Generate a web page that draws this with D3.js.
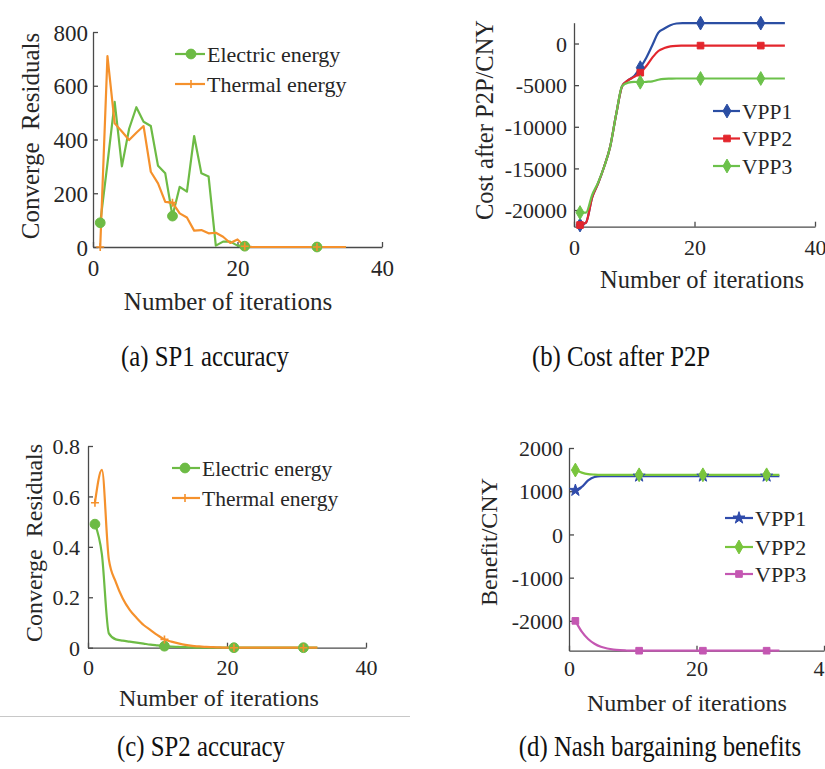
<!DOCTYPE html>
<html><head><meta charset="utf-8">
<script src="https://cdn.jsdelivr.net/npm/d3@7"></script>
<style>
body{margin:0;background:#fff;}
svg{display:block;font-family:"Liberation Serif","Times New Roman",serif;}
text{fill:#262626;}
</style></head><body>
<svg id="fig" width="825" height="769"></svg>
<script>
// ---- shared iteration axis ----
const iterTicks = [0, 20, 40];
const markerIters = [1, 11, 21, 31];

// ---- (a) SP1 accuracy: converge residuals ----
const sp1Iter = d3.range(1, 36);
const sp1Electric = [90,310,540,300,440,520,466,450,302,274,
  115,224,206,413,274,262,5,20,20,5,
  3,0,0,0,0,0,0,0,0,0,
  0,0,0,0,0];
const sp1Thermal = [0,710,460,430,398,425,450,280,237,168,
  165,125,110,61,63,51,53,38,15,28,
  3,0,0,0,0,0,0,0,0,0,
  0,0,0,0,0];
const sp1Ticks = [0, 200, 400, 600, 800];

// ---- (b) cost after P2P ----
const costIter = d3.range(1, 36);
const costVPP1 = [-21800,-21500,-18500,-16800,-14800,-12400,-8500,-5100,-4400,-3900,
  -2900,-1700,-200,1300,1800,2200,2400,2450,2450,2450,
  2450,2450,2450,2450,2450,2450,2450,2450,2450,2450,
  2450,2450,2450,2450,2450];
const costVPP2 = [-21800,-21500,-18500,-16800,-14800,-12400,-8500,-5100,-4400,-4000,
  -3500,-2700,-1700,-900,-550,-350,-280,-260,-250,-250,
  -250,-250,-250,-250,-250,-250,-250,-250,-250,-250,
  -250,-250,-250,-250,-250];
const costVPP3 = [-20300,-20300,-18200,-16700,-14800,-12400,-8500,-5100,-4700,-4600,
  -4650,-4600,-4550,-4350,-4250,-4220,-4200,-4200,-4200,-4200,
  -4200,-4200,-4200,-4200,-4200,-4200,-4200,-4200,-4200,-4200,
  -4200,-4200,-4200,-4200,-4200];
const costTicks = [-20000, -15000, -10000, -5000, 0];

// ---- (c) SP2 accuracy ----
const sp2Iter = d3.range(1, 34);
const sp2Electric = [0.49,0.37,0.057,0.033,0.028,0.024,0.02,0.016,0.012,0.009,
  0.006,0.004,0.003,0.002,0.001,0,0,0,0,0,
  0,0,0,0,0,0,0,0,0,0,
  0,0,0];
const sp2Thermal = [0.575,0.705,0.35,0.26,0.195,0.15,0.118,0.09,0.07,0.05,
  0.033,0.024,0.017,0.011,0.007,0.005,0.003,0.002,0.001,0,
  0,0,0,0,0,0,0,0,0,0,
  0,0,0];
const sp2Ticks = [0, 0.2, 0.4, 0.6, 0.8];

// ---- (d) Nash bargaining benefits ----
const nashIter = d3.range(1, 34);
const benefitVPP1 = [1020,1100,1250,1330,1350,1350,1350,1350,1350,1350,
  1350,1350,1350,1350,1350,1350,1350,1350,1350,1350,
  1350,1350,1350,1350,1350,1350,1350,1350,1350,1350,
  1350,1350,1350];
const benefitVPP2 = [1490,1430,1395,1385,1380,1380,1380,1380,1380,1380,
  1380,1380,1380,1380,1380,1380,1380,1380,1380,1380,
  1380,1380,1380,1380,1380,1380,1380,1380,1380,1380,
  1380,1380,1380];
const benefitVPP3 = [-2000,-2250,-2420,-2530,-2600,-2640,-2665,-2678,-2685,-2690,
  -2690,-2690,-2690,-2690,-2690,-2690,-2690,-2690,-2690,-2690,
  -2690,-2690,-2690,-2690,-2690,-2690,-2690,-2690,-2690,-2690,
  -2690,-2690,-2690];
const benefitTicks = [-2000, -1000, 0, 1000, 2000];

const GREEN = "#6dbb45", ORANGE = "#f5912c";
const BLUE = "#2b4ea3", RED = "#e3262d", GREEN_B = "#6cc14b";
const BLUE_D = "#2f4bab", GREEN_D = "#79c53d", MAGENTA = "#c457b2";
const AXIS = "#4a4a4a";

const svg = d3.select("#fig");

// integer labels with a plain hyphen as minus sign
const intFmt = d => String(Math.round(d));

// marker drawing helpers
function plusPath(s) { return `M${-s},0H${s}M0,${-s}V${s}`; }
function drawMarker(g, kind, x, y, color) {
  if (kind === "plus") {
    g.append("path").attr("d", plusPath(4)).attr("transform", `translate(${x},${y})`)
      .attr("stroke", color).attr("stroke-width", 1.6).attr("fill", "none");
    return;
  }
  const types = { circle: [d3.symbolCircle, 75], diamond: [d3.symbolDiamond, 55],
    square: [d3.symbolSquare, 44], star: [d3.symbolStar, 45] };
  const [t, s] = types[kind];
  g.append("path").attr("d", d3.symbol(t, s)()).attr("transform", `translate(${x},${y})`)
    .attr("fill", color).attr("stroke", color).attr("stroke-width", 1);
}

function panel(cfg) {
  const g = svg.append("g");
  const x = d3.scaleLinear().domain([0, 40]).range([cfg.x0, cfg.x1]);
  const y = d3.scaleLinear().domain(cfg.yDomain).range([cfg.yBot, cfg.yTop]);

  // axes: left and bottom only, ticks pointing inward
  const xa = g.append("g").attr("transform", `translate(0,${cfg.yBot})`)
    .call(d3.axisBottom(x).tickValues(iterTicks).tickSizeInner(-5).tickSizeOuter(0).tickFormat(intFmt));
  xa.selectAll("text").attr("y", cfg.xTickBase - cfg.yBot).attr("dy", null)
    .style("font-size", cfg.tickFs + "px").attr("fill", "#262626");
  const ya = g.append("g").attr("transform", `translate(${cfg.x0},0)`)
    .call(d3.axisLeft(y).tickValues(cfg.yTicks).tickSizeInner(-5).tickSizeOuter(0).tickFormat(cfg.fmt));
  ya.selectAll("text").attr("x", cfg.yTickRight - cfg.x0).attr("dy", "0.35em")
    .style("font-size", cfg.tickFs + "px").attr("fill", "#262626");
  [xa, ya].forEach(a => {
    a.attr("font-family", null).attr("font-size", null);
    a.selectAll("path,line").attr("stroke", AXIS).attr("stroke-width", 1.3);
  });

  // series
  const line = d3.line().x(d => x(d[0])).y(d => y(d[1])).curve(cfg.curve);
  cfg.series.forEach(s => {
    const pts = cfg.iter.map((it, i) => [it, s.values[i]]);
    g.append("path").datum(pts).attr("d", line).attr("fill", "none")
      .attr("stroke", s.color).attr("stroke-width", 2.2).attr("stroke-linejoin", "round");
  });
  cfg.series.forEach(s => {
    cfg.iter.forEach((it, i) => {
      if (markerIters.includes(it)) drawMarker(g, s.marker, x(it), y(s.values[i]), s.color);
    });
  });

  // legend
  cfg.series.forEach((s, i) => {
    const ly = cfg.leg.rows[i];
    g.append("line").attr("x1", cfg.leg.x0).attr("x2", cfg.leg.x1).attr("y1", ly).attr("y2", ly)
      .attr("stroke", s.color).attr("stroke-width", 2.2);
    drawMarker(g, s.marker, cfg.leg.mx, ly, s.color);
    g.append("text").attr("x", cfg.leg.tx).attr("y", ly).attr("dy", "0.35em")
      .style("font-size", cfg.leg.fs + "px").text(s.name);
  });

  // axis titles
  g.append("text").attr("x", cfg.xLab[0]).attr("y", cfg.xLab[1]).attr("text-anchor", "middle")
    .style("font-size", cfg.labFs + "px").text("Number of iterations");
  g.append("text").attr("transform", `translate(${cfg.yLab[0]},${cfg.yLab[1]}) rotate(-90)`)
    .attr("text-anchor", "middle").style("font-size", cfg.labFs + "px")
    .style("white-space", "pre").text(cfg.yTitle);

  // caption, set in a condensed face
  g.append("g").attr("transform", `translate(${cfg.cap[0]},${cfg.cap[1]}) scale(0.84,1)`)
    .append("text").attr("text-anchor", "middle")
    .style("font-size", "29.5px").style("fill", "#111").text(cfg.caption);
}

panel({
  x0: 93, x1: 382, yTop: 32, yBot: 247, yDomain: [0, 800], yTicks: sp1Ticks, fmt: intFmt,
  tickFs: 23, xTickBase: 276, yTickRight: 88, labFs: 25,
  xLab: [228, 310], yLab: [39, 136], yTitle: "Converge  Residuals",
  iter: sp1Iter, curve: d3.curveLinear,
  series: [
    { name: "Electric energy", values: sp1Electric, color: GREEN, marker: "circle" },
    { name: "Thermal energy", values: sp1Thermal, color: ORANGE, marker: "plus" }
  ],
  leg: { x0: 175, x1: 205, mx: 191, tx: 207, rows: [54, 84], fs: 22 },
  cap: [205, 366], caption: "(a) SP1 accuracy"
});

panel({
  x0: 574, x1: 815, yTop: 22.7, yBot: 226.7, yDomain: [-22000, 2500], yTicks: costTicks, fmt: intFmt,
  tickFs: 22, xTickBase: 255, yTickRight: 567, labFs: 24.5,
  xLab: [702, 288], yLab: [493, 120], yTitle: "Cost after P2P/CNY",
  iter: costIter, curve: d3.curveMonotoneX,
  series: [
    { name: "VPP1", values: costVPP1, color: BLUE, marker: "diamond" },
    { name: "VPP2", values: costVPP2, color: RED, marker: "square" },
    { name: "VPP3", values: costVPP3, color: GREEN_B, marker: "diamond" }
  ],
  leg: { x0: 713, x1: 740, mx: 727, tx: 742, rows: [111, 138.5, 166], fs: 21.5 },
  cap: [621, 366], caption: "(b) Cost after P2P"
});

panel({
  x0: 88, x1: 366, yTop: 446, yBot: 647.7, yDomain: [0, 0.8], yTicks: sp2Ticks,
  fmt: d => d === 0 ? "0" : d3.format(".1f")(d),
  tickFs: 22, xTickBase: 675, yTickRight: 80, labFs: 24,
  xLab: [219, 706], yLab: [42, 543], yTitle: "Converge  Residuals",
  iter: sp2Iter, curve: d3.curveMonotoneX,
  series: [
    { name: "Electric energy", values: sp2Electric, color: GREEN, marker: "circle" },
    { name: "Thermal energy", values: sp2Thermal, color: ORANGE, marker: "plus" }
  ],
  leg: { x0: 172, x1: 200, mx: 185, tx: 202, rows: [468, 498], fs: 21.5 },
  cap: [201, 756], caption: "(c) SP2 accuracy"
});

panel({
  x0: 569, x1: 824, yTop: 448, yBot: 650.7, yDomain: [-2690, 2000], yTicks: benefitTicks, fmt: intFmt,
  tickFs: 22, xTickBase: 676, yTickRight: 563, labFs: 24,
  xLab: [687, 711], yLab: [497, 542], yTitle: "Benefit/CNY",
  iter: nashIter, curve: d3.curveMonotoneX,
  series: [
    { name: "VPP1", values: benefitVPP1, color: BLUE_D, marker: "star" },
    { name: "VPP2", values: benefitVPP2, color: GREEN_D, marker: "diamond" },
    { name: "VPP3", values: benefitVPP3, color: MAGENTA, marker: "square" }
  ],
  leg: { x0: 725, x1: 753, mx: 739, tx: 755, rows: [518, 547, 574], fs: 22 },
  cap: [660, 756], caption: "(d) Nash bargaining benefits"
});

// thin separator under panel (c)
svg.append("line").attr("x1", 0).attr("x2", 410).attr("y1", 716.5).attr("y2", 716.5)
  .attr("stroke", "#c8c8c8").attr("stroke-width", 1);
</script>
</body></html>
